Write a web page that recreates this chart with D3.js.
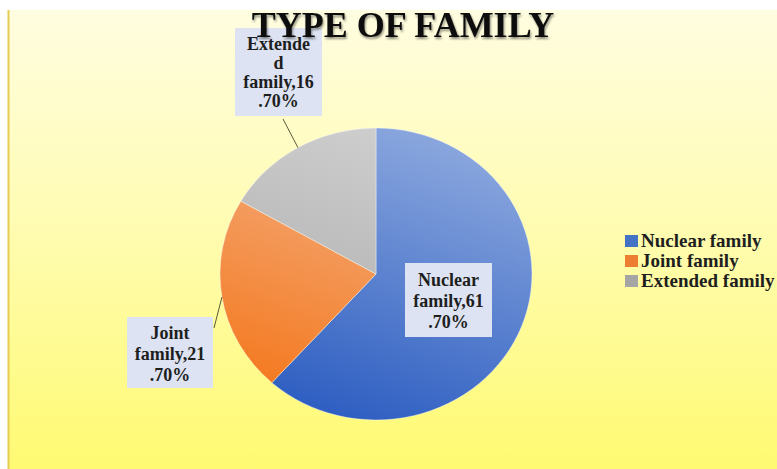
<!DOCTYPE html>
<html>
<head>
<meta charset="utf-8">
<script src="https://cdn.jsdelivr.net/npm/d3@7/dist/d3.min.js"></script>
<style>
  html, body { margin: 0; padding: 0; background: #ffffff; }
  svg { display: block; }
</style>
</head>
<body>
<svg id="chart" width="777" height="469"></svg>
<script>
// Data
const categories = ["Nuclear family", "Joint family", "Extended family"];
const shares = [61.7, 21.7, 16.7];
const valueLabels = ["61.70%", "21.70%", "16.70%"];
const chartTitle = "TYPE OF FAMILY";

// Slice gradients: light end, dark end
const sliceLight = ["#8ca8de", "#f3b68f", "#d0d0d0"];
const sliceDark = ["#2b5cc1", "#f4761a", "#a8a8a8"];
const legendSwatch = ["#4472c4", "#ed7d31", "#a5a5a5"];

// Label text broken into lines the way the boxes wrap them
const labelLines = [
  ["Nuclear", "family,61", ".70%"],
  ["Joint", "family,21", ".70%"],
  ["Extende", "d", "family,16", ".70%"]
];
// Label boxes: x, y, width, height, first baseline, line step
const labelBoxes = [
  { x: 405, y: 263, w: 87, h: 74, base: 286, step: 21 },
  { x: 127, y: 317, w: 86, h: 71, base: 339, step: 21 },
  { x: 235, y: 28, w: 87, h: 88, base: 50, step: 19 }
];
// Where each leader line meets its box (null: label sits on the slice)
const leaderEnds = [null, [214, 328], [283, 119]];

const svg = d3.select("#chart");
const W = 777, H = 469;

const defs = svg.append("defs");

// Chart area background
const bg = defs.append("linearGradient").attr("id", "bgGrad")
  .attr("x1", 0).attr("y1", 0).attr("x2", 0).attr("y2", 1);
bg.append("stop").attr("offset", 0).attr("stop-color", "#fffde0");
bg.append("stop").attr("offset", 0.45).attr("stop-color", "#fffcb4");
bg.append("stop").attr("offset", 1).attr("stop-color", "#fffa72");

svg.append("rect").attr("x", 8).attr("y", 10).attr("width", W - 8).attr("height", H - 10)
  .attr("fill", "url(#bgGrad)");
svg.append("line").attr("x1", 8.5).attr("x2", 8.5).attr("y1", 10).attr("y2", H)
  .attr("stroke", "#e6cc55").attr("stroke-width", 2);

// Title shadow
const sh = defs.append("filter").attr("id", "titleShadow")
  .attr("x", "-10%").attr("y", "-30%").attr("width", "120%").attr("height", "160%");
sh.append("feGaussianBlur").attr("in", "SourceAlpha").attr("stdDeviation", 1.3).attr("result", "b");
sh.append("feOffset").attr("in", "b").attr("dx", 1.2).attr("dy", 1.6).attr("result", "o");
sh.append("feComponentTransfer").attr("in", "o").attr("result", "s")
  .append("feFuncA").attr("type", "linear").attr("slope", 0.45);
const shm = sh.append("feMerge");
shm.append("feMergeNode").attr("in", "s");
shm.append("feMergeNode").attr("in", "SourceGraphic");

// Pie geometry (slightly wider than tall)
const cx = 376, cy = 274, rx = 156, ry = 146;

const pie = d3.pie().sort(null).value(d => d);
const arcs = pie(shares);
const arc = d3.arc().innerRadius(0).outerRadius(rx);

categories.forEach((c, i) => {
  const g = defs.append("linearGradient").attr("id", "slice" + i)
    .attr("gradientUnits", "userSpaceOnUse")
    .attr("x1", 55).attr("y1", -rx).attr("x2", -60).attr("y2", rx);
  g.append("stop").attr("offset", 0).attr("stop-color", sliceLight[i]);
  g.append("stop").attr("offset", 1).attr("stop-color", sliceDark[i]);
});

const pieG = svg.append("g")
  .attr("transform", `translate(${cx},${cy}) scale(1,${ry / rx})`);

pieG.selectAll("path.slice").data(arcs).enter().append("path")
  .attr("class", "slice")
  .attr("d", arc)
  .attr("fill", (d, i) => `url(#slice${i})`)
  .attr("stroke", "rgba(255,255,255,0.5)")
  .attr("stroke-width", 0.8);

// Leader lines from slice edge midpoints to their boxes
arcs.forEach((d, i) => {
  if (!leaderEnds[i]) return;
  const a = (d.startAngle + d.endAngle) / 2;
  const px = cx + rx * Math.sin(a);
  const py = cy - ry * Math.cos(a);
  svg.append("line")
    .attr("x1", px).attr("y1", py)
    .attr("x2", leaderEnds[i][0]).attr("y2", leaderEnds[i][1])
    .attr("stroke", "#5a5a3a").attr("stroke-width", 1);
});

// Data label boxes
labelBoxes.forEach((b, i) => {
  svg.append("rect").attr("x", b.x).attr("y", b.y).attr("width", b.w).attr("height", b.h)
    .attr("fill", "#dde3f2");
  const t = svg.append("text")
    .attr("text-anchor", "middle")
    .attr("font-family", "'Liberation Serif', 'Times New Roman', serif")
    .attr("font-weight", "bold")
    .attr("font-size", 18)
    .attr("fill", "#1e1e1e");
  labelLines[i].forEach((ln, k) => {
    t.append("tspan").attr("x", b.x + b.w / 2).attr("y", b.base + k * b.step).text(ln);
  });
});

// Title
svg.append("text")
  .attr("x", 403).attr("y", 37)
  .attr("text-anchor", "middle")
  .attr("font-family", "'Liberation Serif', 'Times New Roman', serif")
  .attr("font-weight", "bold")
  .attr("font-size", 36)
  .attr("fill", "#0d0d0d")
  .attr("filter", "url(#titleShadow)")
  .text(chartTitle);

// Legend
const legend = svg.append("g").attr("transform", "translate(625,241)");
categories.forEach((c, i) => {
  const row = legend.append("g").attr("transform", `translate(0,${i * 20})`);
  row.append("rect").attr("x", 0).attr("y", -6).attr("width", 13).attr("height", 12)
    .attr("fill", legendSwatch[i]);
  row.append("text").attr("x", 16).attr("y", 6)
    .attr("font-family", "'Liberation Serif', 'Times New Roman', serif")
    .attr("font-weight", "bold")
    .attr("font-size", 19)
    .attr("fill", "#1e1e1e")
    .text(c);
});
</script>
</body>
</html>
